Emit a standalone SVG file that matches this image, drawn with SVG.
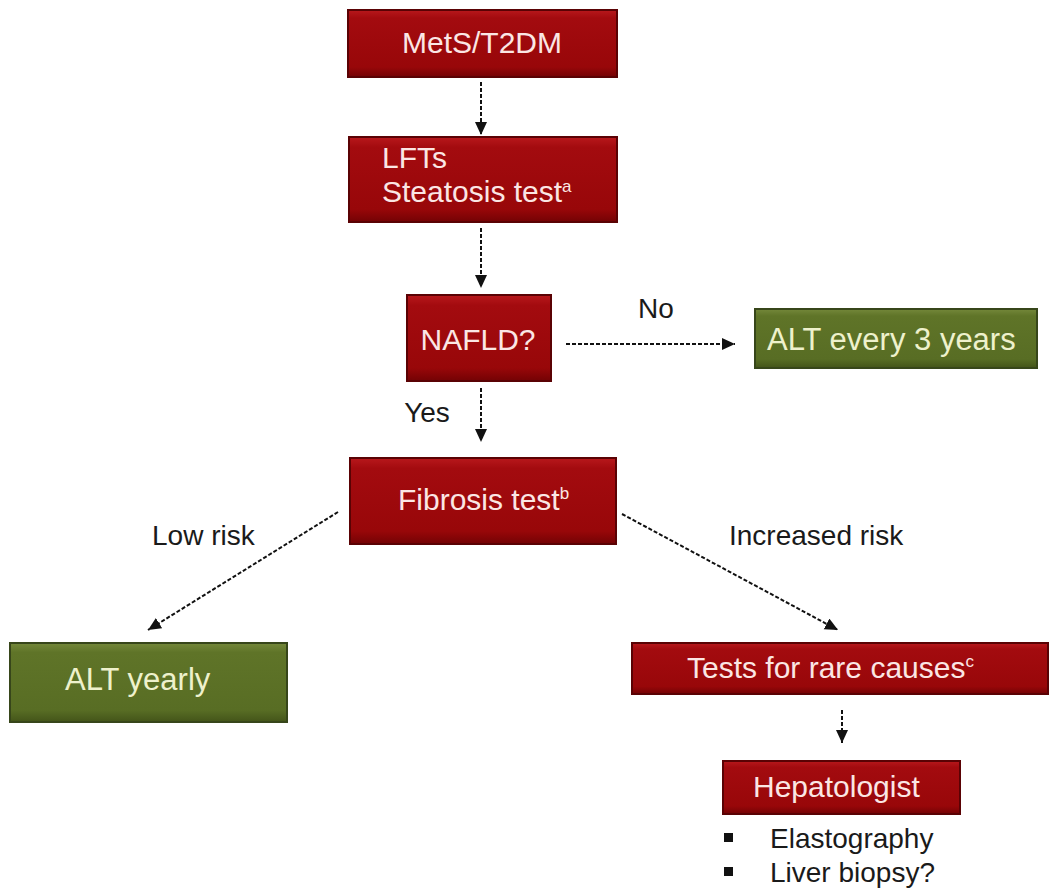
<svg xmlns="http://www.w3.org/2000/svg" width="1049" height="888" viewBox="0 0 1049 888">
<defs>
<linearGradient id="gRed" x1="0" y1="0" x2="0" y2="1">
<stop offset="0" stop-color="#b8181c"/>
<stop offset="0.12" stop-color="#a30b0f"/>
<stop offset="0.85" stop-color="#980709"/>
<stop offset="1" stop-color="#730204"/>
</linearGradient>
<linearGradient id="gGreen" x1="0" y1="0" x2="0" y2="1">
<stop offset="0" stop-color="#74883a"/>
<stop offset="0.12" stop-color="#5f7428"/>
<stop offset="0.85" stop-color="#586d24"/>
<stop offset="1" stop-color="#435419"/>
</linearGradient>
<marker id="arr" markerWidth="14" markerHeight="14" refX="13" refY="6" orient="auto" markerUnits="userSpaceOnUse">
<path d="M0,0 L13,6 L0,12 Z" fill="#111"/>
</marker>
</defs>
<style>
.red{fill:url(#gRed);stroke:#5a0204;stroke-width:2}
.green{fill:url(#gGreen);stroke:#37461a;stroke-width:2}
.tr{font-family:"Liberation Sans",Arial,sans-serif;font-size:30px;fill:#fbe6e4}
.tg{font-family:"Liberation Sans",Arial,sans-serif;font-size:31px;fill:#eef1cc}
.lbl{font-family:"Liberation Sans",Arial,sans-serif;font-size:28px;fill:#1a1a1a}
.sup{font-size:17px}
.conn{stroke:#111;stroke-width:2;fill:none;stroke-dasharray:4 2;marker-end:url(#arr)}
</style>
<rect width="1049" height="888" fill="#ffffff"/>
<g id="connectors">
<line class="conn" x1="481" y1="82" x2="481" y2="135"/>
<line class="conn" x1="481" y1="228" x2="481" y2="288"/>
<line class="conn" x1="566" y1="344" x2="735" y2="344"/>
<line class="conn" x1="481" y1="388" x2="481" y2="442"/>
<line class="conn" x1="338" y1="512" x2="148" y2="630"/>
<line class="conn" x1="622" y1="514" x2="838" y2="630"/>
<line class="conn" x1="842" y1="710" x2="842" y2="743"/>
<text class="lbl" x="656" y="318" text-anchor="middle">No</text>
<text class="lbl" x="427" y="422" text-anchor="middle">Yes</text>
<text class="lbl" x="152" y="545">Low risk</text>
<text class="lbl" x="729" y="545">Increased risk</text>
</g>
<g id="mets">
<rect class="red" x="348" y="10" width="269" height="67"/>
<text class="tr" x="482" y="53" text-anchor="middle" font-size="31">MetS/T2DM</text>
</g>
<g id="lfts">
<rect class="red" x="349" y="137" width="268" height="85"/>
<text class="tr" x="382" y="168">LFTs</text>
<text class="tr" x="382" y="202">Steatosis test<tspan class="sup" dy="-10">a</tspan></text>
</g>
<g id="nafld">
<rect class="red" x="407" y="295" width="144" height="86"/>
<text class="tr" x="478" y="350" text-anchor="middle" font-size="31">NAFLD?</text>
</g>
<g id="alt3">
<rect class="green" x="755" y="309" width="282" height="59"/>
<text class="tg" x="767" y="350">ALT every 3 years</text>
</g>
<g id="fibrosis">
<rect class="red" x="350" y="458" width="266" height="86"/>
<text class="tr" x="398" y="510" font-size="32">Fibrosis test<tspan class="sup" dy="-11">b</tspan></text>
</g>
<g id="altyearly">
<rect class="green" x="10" y="643" width="277" height="79"/>
<text class="tg" x="65" y="690">ALT yearly</text>
</g>
<g id="rare">
<rect class="red" x="632" y="643" width="416" height="51"/>
<text class="tr" x="687" y="678">Tests for rare causes<tspan class="sup" dy="-11">c</tspan></text>
</g>
<g id="hepatologist">
<rect class="red" x="723" y="761" width="237" height="53"/>
<text class="tr" x="753" y="797" font-size="31">Hepatologist</text>
</g>
<g id="bullets">
<rect x="724" y="833" width="9" height="9" fill="#111"/>
<rect x="724" y="867" width="9" height="9" fill="#111"/>
<text class="lbl" x="770" y="848">Elastography</text>
<text class="lbl" x="770" y="882">Liver biopsy?</text>
</g>
</svg>
